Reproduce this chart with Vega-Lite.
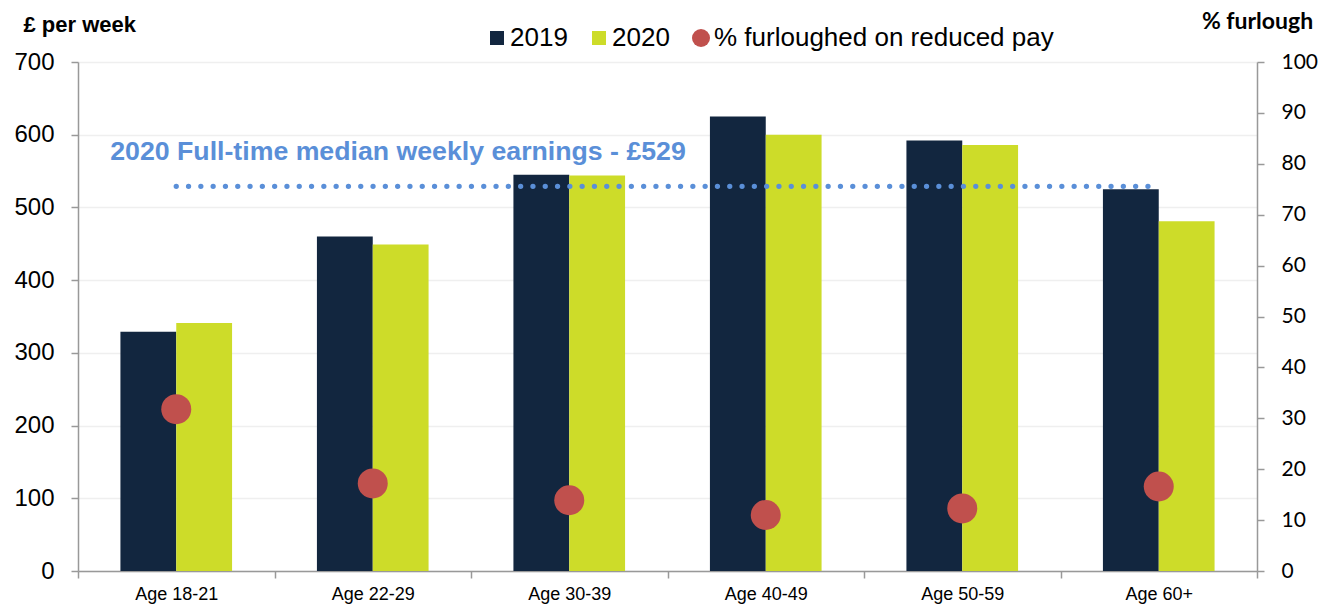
{
  "$schema": "https://vega.github.io/schema/vega-lite/v6.json",
  "width": 1179,
  "height": 509,
  "autosize": {"type": "none"},
  "padding": {"left": 78, "top": 62, "right": 79, "bottom": 33},
  "background": "white",
  "config": {"view": {"stroke": null}, "font": "Liberation Sans"},
  "datasets": {
    "earnings": [
      {"age": "Age 18-21", "series": "2019", "value": 329},
      {"age": "Age 18-21", "series": "2020", "value": 341},
      {"age": "Age 22-29", "series": "2019", "value": 460},
      {"age": "Age 22-29", "series": "2020", "value": 449},
      {"age": "Age 30-39", "series": "2019", "value": 545},
      {"age": "Age 30-39", "series": "2020", "value": 544},
      {"age": "Age 40-49", "series": "2019", "value": 625},
      {"age": "Age 40-49", "series": "2020", "value": 600},
      {"age": "Age 50-59", "series": "2019", "value": 592},
      {"age": "Age 50-59", "series": "2020", "value": 586},
      {"age": "Age 60+", "series": "2019", "value": 525},
      {"age": "Age 60+", "series": "2020", "value": 481}
    ],
    "furlough": [
      {"age": "Age 18-21", "series": "% furloughed on reduced pay", "pct": 31.8},
      {"age": "Age 22-29", "series": "% furloughed on reduced pay", "pct": 17.2},
      {"age": "Age 30-39", "series": "% furloughed on reduced pay", "pct": 13.9},
      {"age": "Age 40-49", "series": "% furloughed on reduced pay", "pct": 11.0},
      {"age": "Age 50-59", "series": "% furloughed on reduced pay", "pct": 12.3},
      {"age": "Age 60+", "series": "% furloughed on reduced pay", "pct": 16.6}
    ],
    "median": [
      {"age": "Age 18-21", "value": 529},
      {"age": "Age 60+", "value": 529}
    ],
    "note": [
      {"label": "2020 Full-time median weekly earnings - £529"}
    ]
  },
  "layer": [
    {
      "layer": [
        {
          "data": {"name": "earnings"},
          "mark": {"type": "bar"},
          "encoding": {
            "x": {
              "field": "age",
              "type": "nominal",
              "sort": null,
              "scale": {
                "domain": ["Age 18-21", "Age 22-29", "Age 30-39", "Age 40-49", "Age 50-59", "Age 60+"],
                "paddingInner": 0,
                "paddingOuter": 0
              },
              "axis": {
                "title": null,
                "labelAngle": 0,
                "labelFontSize": 18,
                "labelColor": "black",
                "labelPadding": 7,
                "tickBand": "extent",
                "ticks": true,
                "tickSize": 7,
                "tickColor": "#999999",
                "tickWidth": 1.5,
                "domainColor": "#999999",
                "domainWidth": 1.5,
                "grid": false
              }
            },
            "xOffset": {
              "field": "series",
              "type": "nominal",
              "scale": {"domain": ["2019", "2020"], "paddingInner": 0, "paddingOuter": 0.76}
            },
            "y": {
              "field": "value",
              "type": "quantitative",
              "scale": {"domain": [0, 700], "nice": false},
              "axis": {
                "title": "£ per week",
                "titleAngle": 0,
                "titleAlign": "left",
                "titleBaseline": "alphabetic",
                "titleX": -55,
                "titleY": -31,
                "titleFontSize": 22,
                "titleFontWeight": "bold",
                "titleColor": "black",
                "values": [0, 100, 200, 300, 400, 500, 600, 700],
                "labelFontSize": 24,
                "labelColor": "black",
                "labelPadding": 17,
                "tickSize": 7,
                "tickColor": "#999999",
                "tickWidth": 1.5,
                "domainColor": "#999999",
                "domainWidth": 1.5,
                "grid": true,
                "gridColor": "#EFEFEF",
                "gridWidth": 1.5
              }
            },
            "color": {
              "field": "series",
              "type": "nominal",
              "scale": {
                "domain": ["2019", "2020", "% furloughed on reduced pay"],
                "range": ["#12263F", "#CDDC29", "#C0504D"]
              },
              "legend": {
                "orient": "none",
                "direction": "horizontal",
                "legendX": 406,
                "legendY": -37,
                "title": null,
                "padding": 0,
                "labelFontSize": 26,
                "labelColor": "black",
                "labelLimit": 0,
                "labelOffset": 0,
                "columnPadding": 18,
                "symbolSize": 324,
                "symbolStrokeWidth": 0,
                "symbolOpacity": 1,
                "encode": {
                  "symbols": {
                    "update": {
                      "shape": {"signal": "datum.value === '% furloughed on reduced pay' ? 'circle' : 'square'"},
                      "size": {"signal": "datum.value === '% furloughed on reduced pay' ? 324 : 196"},
                      "strokeWidth": {"value": 0}
                    }
                  }
                }
              }
            }
          }
        },
        {
          "data": {"name": "median"},
          "mark": {
            "type": "line",
            "color": "#5A8FD8",
            "strokeWidth": 5.3,
            "strokeDash": [0, 12.3],
            "strokeCap": "round"
          },
          "encoding": {
            "x": {"field": "age", "type": "nominal", "sort": null},
            "y": {"field": "value", "type": "quantitative"}
          }
        },
        {
          "data": {"name": "note"},
          "mark": {
            "type": "text",
            "align": "left",
            "baseline": "alphabetic",
            "dx": -66,
            "fontSize": 26.7,
            "fontWeight": "bold",
            "color": "#5A8FD8"
          },
          "encoding": {
            "x": {"datum": "Age 18-21"},
            "y": {"datum": 565},
            "text": {"field": "label"}
          }
        }
      ]
    },
    {
      "data": {"name": "furlough"},
      "mark": {"type": "circle", "size": 900, "opacity": 1},
      "encoding": {
        "x": {"field": "age", "type": "nominal", "sort": null},
        "y": {
          "field": "pct",
          "type": "quantitative",
          "scale": {"domain": [0, 100], "nice": false},
          "axis": {
            "orient": "right",
            "title": "% furlough",
            "titleAngle": 0,
            "titleAlign": "center",
            "titleBaseline": "alphabetic",
            "titleX": 0,
            "titleY": -34,
            "titleFont": "Lato",
            "titleFontSize": 23,
            "titleFontWeight": "bold",
            "titleColor": "black",
            "values": [0, 10, 20, 30, 40, 50, 60, 70, 80, 90, 100],
            "labelFont": "Lato",
            "labelFontSize": 21,
            "labelColor": "black",
            "labelPadding": 17,
            "tickSize": 7,
            "tickColor": "#999999",
            "tickWidth": 1.5,
            "domainColor": "#999999",
            "domainWidth": 1.5,
            "grid": false
          }
        },
        "color": {"field": "series", "type": "nominal"}
      }
    }
  ],
  "resolve": {"scale": {"y": "independent"}}
}
